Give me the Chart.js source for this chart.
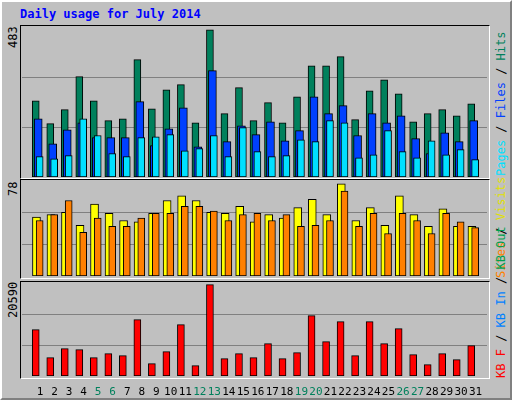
<!DOCTYPE html>
<html>
<head>
<meta charset="utf-8">
<script src="https://cdn.jsdelivr.net/npm/chart.js@4"></script>
<style>
  body { margin: 0; background: #C0C0C0; }
  #frame { position: absolute; left: 0; top: 0; width: 508px; height: 396px; background: #C0C0C0;
    border: 2px solid; border-color: #fff #808080 #808080 #fff; }
  .panel { position: absolute; left: 20px; width: 468px; background: #C0C0C0;
    border: 1px solid; border-color: #000 #fff #fff #000; }
  .box { position: absolute; }
  .txt { position: absolute; font-family: "DejaVu Sans Mono", monospace; font-size: 12px; white-space: nowrap; }
  .rot { transform-origin: left top; transform: rotate(-90deg); }
</style>
</head>
<body>
<div id="frame"></div>
<div class="panel" style="top:25px;height:152px"></div>
<div class="panel" style="top:179px;height:98px"></div>
<div class="panel" style="top:281px;height:96px"></div>

<div class="txt" style="left:20px;top:7px;font-weight:bold;color:#0000FF">Daily usage for July 2014</div>
<div class="txt rot" style="left:6px;top:48px">483</div>
<div class="txt rot" style="left:6px;top:196px">78</div>
<div class="txt rot" style="left:6px;top:318px">20590</div>
<div class="txt rot" style="left:494px;top:176px"><span style="color:#00E0FF">Pages</span> / <span style="color:#0040FF">Files</span> / <span style="color:#00805C">Hits</span></div>
<div class="txt rot" style="left:494px;top:278px"><span style="color:#FF8000">Sites</span> / <span style="color:#E0E000">Visits</span></div>
<div class="txt rot" style="left:494px;top:378px"><span style="color:#FF0000">KB F</span> / <span style="color:#0080FF">KB In</span> / <span style="color:#00A050">KB Out</span></div>

<div class="box" style="left:22px;top:27px;width:465px;height:150px"><canvas id="c1"></canvas></div>
<div class="box" style="left:22px;top:181px;width:465px;height:95px"><canvas id="c2"></canvas></div>
<div class="box" style="left:22px;top:284px;width:465px;height:112px"><canvas id="c3"></canvas></div>

<script>
const days = Array.from({ length: 31 }, (_, i) => i + 1);
const weekendDays = [5, 6, 12, 13, 19, 20, 26, 27];

const hits = [250, 175, 221, 329, 250, 185, 191, 385, 224, 286, 303, 178, 483, 208, 293, 185,
  244, 178, 263, 365, 365, 395, 188, 283, 319, 273, 181, 208, 221, 201, 240];
const files = [191, 109, 155, 178, 129, 129, 129, 247, 103, 158, 227, 99, 349, 116, 168, 139,
  181, 119, 152, 263, 208, 234, 136, 208, 178, 201, 126, 77, 145, 116, 185];
const pages = [67, 60, 70, 191, 136, 77, 67, 129, 132, 139, 86, 93, 136, 67, 162, 83,
  67, 70, 122, 116, 185, 178, 63, 73, 152, 83, 63, 119, 73, 90, 57];
const visits = [50, 52, 54, 43, 61, 53, 47, 46, 53, 64, 68, 64, 54, 53, 59, 46,
  52, 49, 58, 65, 52, 78, 47, 58, 43, 68, 52, 42, 57, 42, 42];
const sites = [47, 52, 64, 37, 49, 42, 42, 49, 53, 53, 59, 59, 55, 47, 52, 53,
  47, 52, 42, 43, 47, 72, 42, 53, 36, 53, 47, 36, 53, 46, 41];
const kbytes = [10446, 4133, 6162, 5937, 4133, 5035, 4584, 12700, 2780, 5486, 11573, 2330, 20590, 3908, 5035, 4133,
  7290, 3908, 5260, 13602, 7740, 12249, 4584, 12249, 7290, 10671, 4810, 2555, 5035, 3682, 6839];

// each series sits a little to the right of the previous one, like the old webalizer bars
function series(values, offset, color, width, order) {
  return {
    data: values.map((v, i) => ({ x: days[i] + offset, y: v })),
    backgroundColor: color,
    borderColor: "#000",
    borderWidth: 1,
    borderSkipped: false,
    barThickness: width,
    grouped: false,
    order: order,
  };
}

function panel(canvas, datasets, max, showDays) {
  new Chart(canvas, {
    type: "bar",
    data: { datasets: datasets },
    options: {
      responsive: true,
      maintainAspectRatio: false,
      animation: false,
      layout: { padding: 0 },
      plugins: { legend: { display: false }, tooltip: { enabled: false } },
      scales: {
        x: {
          type: "linear", min: 0.5, max: 31.5,
          display: showDays,
          grid: { display: false },
          border: { display: false },
          afterBuildTicks: axis => { axis.ticks = days.map(d => ({ value: d + 0.23 })); },
          afterFit: axis => { axis.height = showDays ? 20 : 0; },
          ticks: {
            autoSkip: false, maxRotation: 0, padding: 2,
            font: { family: "DejaVu Sans Mono", size: 11 },
            color: ctx => weekendDays.includes(days[ctx.index]) ? "#00805C" : "#000",
            callback: (v, i) => String(days[i]),
          },
        },
        y: {
          min: 0, max: max,
          afterBuildTicks: axis => { axis.ticks = [1, 2].map(k => ({ value: max * k / 3 })); },
          afterFit: axis => { axis.width = 0; },
          ticks: { display: false },
          border: { display: false },
          grid: { color: "#808080", lineWidth: 1, drawTicks: false },
        },
      },
    },
  });
}

panel(document.querySelector("#c1"), [
  series(hits, -0.07, "#00805C", 7, 3),
  series(files, 0.1, "#0040FF", 8, 2),
  series(pages, 0.2, "#00E0FF", 7, 1),
], 492, false);

panel(document.querySelector("#c2"), [
  series(visits, -0.02, "#FFFF00", 8, 2),
  series(sites, 0.2, "#FF8000", 7, 1),
], 80.5, false);

panel(document.querySelector("#c3"), [
  series(kbytes, -0.07, "#FF0000", 7, 1),
], 20740, true);
</script>
</body>
</html>
